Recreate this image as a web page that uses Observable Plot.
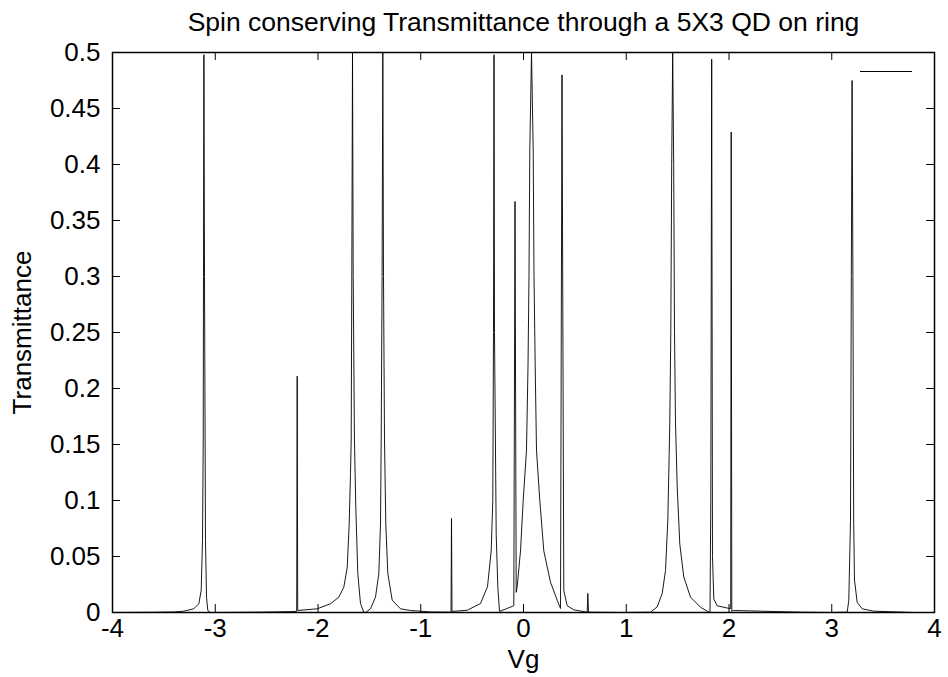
<!DOCTYPE html>
<html>
<head>
<meta charset="utf-8">
<script src="https://cdn.jsdelivr.net/npm/d3@7"></script>
<script src="https://cdn.jsdelivr.net/npm/@observablehq/plot@0.6"></script>
<style>
  html, body { margin: 0; padding: 0; background: #fff; }
  #wrap { position: relative; width: 948px; height: 677px; }
  #key { position: absolute; left: 860px; top: 71px; width: 52px; border-top: 1px solid #000; }
</style>
</head>
<body>
<div id="wrap"><div id="key"></div></div>
<script>
const titleText = "Spin conserving Transmittance through a 5X3 QD on ring";
const xLabel = "Vg";
const yLabel = "Transmittance";
const xTicks = [-4, -3, -2, -1, 0, 1, 2, 3, 4];
const yTicks = [0, 0.05, 0.1, 0.15, 0.2, 0.25, 0.3, 0.35, 0.4, 0.45, 0.5];

// Vg values and transmittance
const vg = [
  -4.0, -3.6, -3.4, -3.306, -3.209, -3.160, -3.137, -3.124, -3.117, -3.1144, -3.1105, -3.1046, -3.0949, -3.085, -3.0725, -3.046,
  -2.56, -2.268, -2.2074, -2.2024, -2.1976, -2.0078, -1.8783, -1.7976, -1.7489, -1.7158, -1.6964, -1.6837, -1.6769, -1.6710, -1.6642, -1.6574,
  -1.6453, -1.6321, -1.6127, -1.5864, -1.5543, -1.5377, -1.4891, -1.4404, -1.4083, -1.3917, -1.3849, -1.3761, -1.3693, -1.3625, -1.3528, -1.3401,
  -1.3207, -1.2779, -1.1971, -1.0998, -0.9051, -0.7056, -0.7007, -0.6959, -0.5479, -0.4185, -0.3504, -0.3144, -0.2988, -0.2920, -0.2871, -0.2823,
  -0.2657, -0.2501, -0.2336, -0.1586, -0.0944, -0.0827, -0.0711, -0.0613, -0.0292, -0.0029, 0.0292, 0.0438, 0.0535, 0.0613, 0.0779, 0.0944,
  0.1022, 0.1139, 0.1265, 0.1586, 0.1976, 0.2628, 0.3280, 0.3601, 0.3747, 0.3922, 0.4253, 0.4895, 0.6200, 0.6258, 0.6326, 0.9732,
  1.2360, 1.3012, 1.3499, 1.3820, 1.4044, 1.4180, 1.4238, 1.4336, 1.4423, 1.4521, 1.4618, 1.4696, 1.4793, 1.4959, 1.5212, 1.5601,
  1.6253, 1.7226, 1.7878, 1.8151, 1.8229, 1.8316, 1.8394, 1.8521, 1.8852, 1.9825, 2.0165, 2.0214, 2.0272, 2.0438, 2.3066, 2.6959,
  2.9878, 3.1504, 3.1659, 3.1825, 3.1903, 3.1981, 3.2058, 3.2136, 3.2214, 3.2477, 3.2963, 3.4063, 3.7956, 4.0
];
const transmittance = [
  0.0, 0.0002, 0.0005, 0.0012, 0.0033, 0.0078, 0.0197, 0.064, 0.154, 0.30, 0.498, 0.30, 0.064, 0.0137, 0.0018, 0.0,
  0.0003, 0.0008, 0.001, 0.211, 0.0018, 0.0033, 0.0078, 0.0137, 0.0226, 0.04, 0.079, 0.124, 0.154, 0.30, 0.50, 0.30,
  0.154, 0.094, 0.035, 0.008, 0.0003, 0.0, 0.0033, 0.0137, 0.0346, 0.079, 0.154, 0.30, 0.50, 0.30, 0.154, 0.079,
  0.035, 0.011, 0.0033, 0.0018, 0.0005, 0.0003, 0.084, 0.001, 0.002, 0.008, 0.023, 0.055, 0.10, 0.25, 0.498, 0.25,
  0.07, 0.023, 0.001, 0.0036, 0.006, 0.367, 0.018, 0.023, 0.055, 0.10, 0.145, 0.22, 0.30, 0.413, 0.50, 0.413,
  0.30, 0.22, 0.145, 0.10, 0.055, 0.027, 0.011, 0.0036, 0.48, 0.0197, 0.006, 0.0024, 0.0003, 0.017, 0.0003, 0.0,
  0.0003, 0.005, 0.017, 0.0375, 0.082, 0.142, 0.17, 0.25, 0.40, 0.50, 0.40, 0.25, 0.17, 0.112, 0.061, 0.0316,
  0.0137, 0.0047, 0.0012, 0.0, 0.10, 0.494, 0.05, 0.012, 0.006, 0.004, 0.0035, 0.429, 0.001, 0.0018, 0.0012, 0.0003,
  0.0, 0.0003, 0.011, 0.082, 0.30, 0.475, 0.30, 0.08, 0.029, 0.009, 0.0033, 0.0012, 0.0, 0.0
];

const data = vg.map((v, i) => ({vg: v, t: transmittance[i]}));

const W = 948, H = 677;
const mL = 112, mR = 14, mT = 52, mB = 65;
const plotW = W - mL - mR, plotH = H - mT - mB;
const tickLen = 8;
const FONT = 26;

const chart = Plot.plot({
  width: W,
  height: H,
  marginLeft: mL,
  marginRight: mR,
  marginTop: mT,
  marginBottom: mB,
  style: {fontFamily: "'Liberation Sans', Arial, sans-serif", fontSize: FONT + "px", background: "#fff", color: "#000"},
  x: {domain: [-4, 4], axis: null},
  y: {domain: [0, 0.5], axis: null},
  marks: [
    Plot.line(data, {x: "vg", y: "t", stroke: "#000", strokeWidth: 0.9, clip: true}),
    // inward ticks on all four sides
    Plot.tickX(xTicks, {x: d => d, insetTop: plotH - tickLen, stroke: "#000", strokeWidth: 1}),
    Plot.tickX(xTicks, {x: d => d, insetBottom: plotH - tickLen, stroke: "#000", strokeWidth: 1}),
    Plot.tickY(yTicks, {y: d => d, insetRight: plotW - tickLen, stroke: "#000", strokeWidth: 1}),
    Plot.tickY(yTicks, {y: d => d, insetLeft: plotW - tickLen, stroke: "#000", strokeWidth: 1}),
    Plot.axisX({ticks: xTicks, tickSize: 0, tickPadding: 6, tickFormat: d => String(d), label: null, fontSize: FONT}),
    Plot.axisY({ticks: yTicks, tickSize: 0, tickPadding: 12, tickFormat: d => String(d), label: null, fontSize: FONT}),
    Plot.frame({stroke: "#000", strokeWidth: 1.5}),
    Plot.text([titleText], {frameAnchor: "top", dy: -30, lineAnchor: "middle", textAnchor: "middle", text: d => d, fontSize: 26.5, fill: "#000"}),
    Plot.text([xLabel], {frameAnchor: "bottom", dy: 47, lineAnchor: "middle", textAnchor: "middle", text: d => d, fontSize: FONT, fill: "#000"}),
    Plot.text([yLabel], {frameAnchor: "left", dx: -90, rotate: -90, lineAnchor: "middle", textAnchor: "middle", text: d => d, fontSize: FONT, fill: "#000"})
  ]
});
document.getElementById("wrap").prepend(chart);
</script>
</body>
</html>
